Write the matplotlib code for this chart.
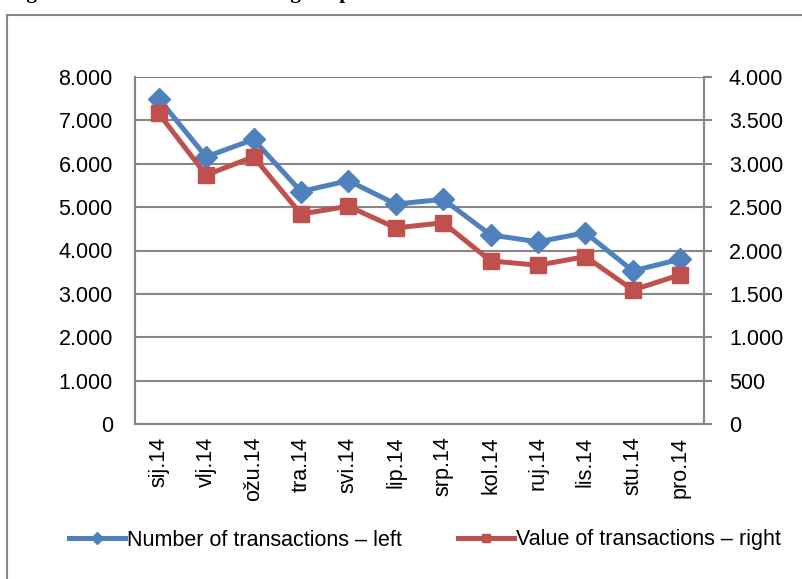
import matplotlib
matplotlib.use("Agg")
import matplotlib.pyplot as plt
from matplotlib.patches import Rectangle
from matplotlib.ticker import FuncFormatter

plt.rcParams['font.family'] = ['Liberation Sans', 'DejaVu Sans']

# data
months = ['sij.14', 'vlj.14', 'ožu.14', 'tra.14', 'svi.14', 'lip.14',
          'srp.14', 'kol.14', 'ruj.14', 'lis.14', 'stu.14', 'pro.14']
num_transactions = [7500, 6160, 6560, 5360, 5610, 5070, 5180, 4360, 4200, 4410, 3530, 3800]
val_transactions = [3580, 2870, 3080, 2420, 2510, 2260, 2320, 1880, 1830, 1930, 1545, 1720]

blue = '#4F81BD'
red = '#C0504D'
grey = '#868686'

W, H = 803, 579
fig = plt.figure(figsize=(W / 100, H / 100), dpi=100)

# title line, cut off by the top of the page
fig.text(8 / W, 1 + 2 / H, 'Figure 5 Card transactions using the portal',
         family=['Liberation Serif'], weight='bold', fontsize=15,
         ha='left', va='baseline')

# outer frame of the chart object
fig.patches.append(Rectangle((7 / W, -0.1), 1.2, 1 - 15 / H + 0.1,
                             transform=fig.transFigure, fill=False,
                             edgecolor=grey, linewidth=1.5))

ax = fig.add_axes([135 / W, 1 - 424 / H, (704 - 135) / W, (424 - 77) / H])
ax2 = ax.twinx()

x = range(len(months))
l1, = ax.plot(x, num_transactions, color=blue, lw=3.6, marker='D', ms=11,
              label='Number of transactions – left', zorder=3)
l2, = ax2.plot(x, val_transactions, color=red, lw=3.6, marker='s', ms=11.5,
               label='Value of transactions – right', zorder=3)

fmt = FuncFormatter(lambda v, p: f'{int(v):,}'.replace(',', '.'))

ax.set_xlim(-0.5, len(months) - 0.5)
ax.set_ylim(0, 8000)
ax.set_yticks(range(0, 8001, 1000))
ax.yaxis.set_major_formatter(fmt)
ax2.set_ylim(0, 4000)
ax2.set_yticks(range(0, 4001, 500))
ax2.yaxis.set_major_formatter(fmt)

ax.set_xticks(list(x))
ax.set_xticklabels(months, rotation=90)
ax.tick_params(axis='x', length=0, pad=9, labelsize=15.5)
ax.tick_params(axis='y', length=0, pad=16, labelsize=15.5)
ax2.tick_params(axis='y', length=6, width=1.5, color=grey, pad=12, labelsize=15.5)

ax.grid(axis='y', color=grey, lw=1.5)
ax.set_axisbelow(True)
for a in (ax, ax2):
    a.spines['top'].set_visible(False)
    for s in ('left', 'right', 'bottom'):
        a.spines[s].set_color(grey)
        a.spines[s].set_linewidth(1.5)

fig.legend(handles=[l1, l2], loc='center', bbox_to_anchor=(425 / W, 1 - 540 / H),
           ncol=2, frameon=False, fontsize=15.5, handlelength=2.6,
           handletextpad=0.1, columnspacing=2.6, markerscale=0.55)

fig.savefig('out.png', dpi=100)
